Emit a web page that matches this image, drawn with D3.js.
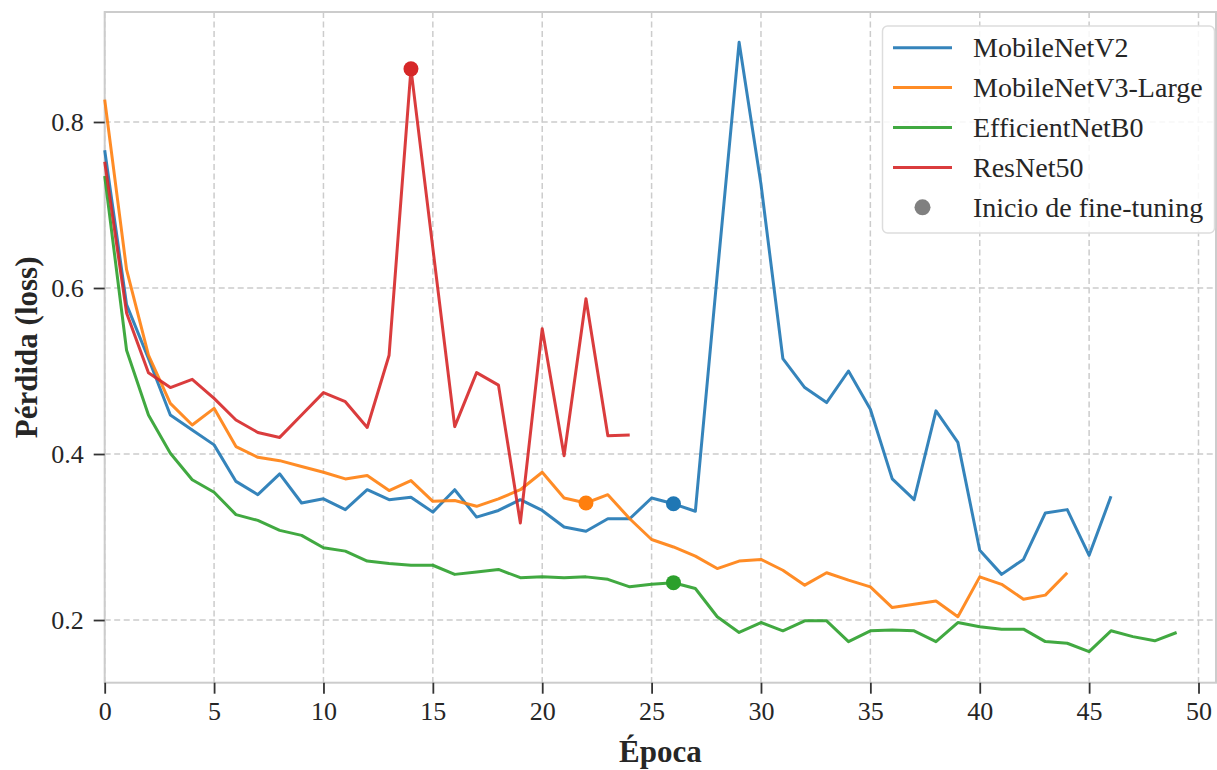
<!DOCTYPE html>
<html>
<head>
<meta charset="utf-8">
<script src="https://cdn.jsdelivr.net/npm/d3@7"></script>
<style>
  body { margin: 0; background: #fff; }
  svg { font-family: "Liberation Serif", "Times New Roman", serif; }
</style>
</head>
<body>
<svg id="chart" width="1217" height="770"></svg>
<script>
const models = ["MobileNetV2", "MobileNetV3-Large", "EfficientNetB0", "ResNet50"];
const colors = ["#1f77b4", "#ff7f0e", "#2ca02c", "#d62728"];

const mobilenetV2 = [0.766, 0.580, 0.515, 0.447, 0.429, 0.411, 0.367, 0.351, 0.376, 0.341,
  0.346, 0.333, 0.357, 0.345, 0.348, 0.330, 0.357, 0.324, 0.332, 0.345,
  0.332, 0.312, 0.307, 0.322, 0.322, 0.347, 0.340, 0.331, 0.616, 0.896,
  0.725, 0.515, 0.480, 0.462, 0.500, 0.454, 0.370, 0.345, 0.452, 0.414,
  0.284, 0.255, 0.273, 0.329, 0.333, 0.278, 0.349];
const mobilenetV3 = [0.827, 0.622, 0.519, 0.461, 0.435, 0.455, 0.409, 0.396, 0.392, 0.385,
  0.378, 0.370, 0.374, 0.356, 0.368, 0.343, 0.344, 0.337, 0.346, 0.357,
  0.378, 0.347, 0.341, 0.351, 0.322, 0.297, 0.288, 0.277, 0.262, 0.271,
  0.273, 0.260, 0.242, 0.257, 0.248, 0.240, 0.215, 0.219, 0.223, 0.204,
  0.252, 0.243, 0.225, 0.230, 0.257];
const efficientB0 = [0.735, 0.525, 0.447, 0.401, 0.369, 0.354, 0.327, 0.320, 0.308, 0.302,
  0.287, 0.283, 0.271, 0.268, 0.266, 0.266, 0.255, 0.258, 0.261, 0.251,
  0.252, 0.251, 0.252, 0.249, 0.240, 0.243, 0.245, 0.238, 0.204, 0.185,
  0.197, 0.187, 0.199, 0.199, 0.174, 0.187, 0.188, 0.187, 0.174, 0.197,
  0.192, 0.189, 0.189, 0.174, 0.172, 0.162, 0.187, 0.180, 0.175, 0.185];
const resnet50 = [0.752, 0.570, 0.498, 0.480, 0.490, 0.467, 0.441, 0.426, 0.420, 0.447,
  0.474, 0.463, 0.432, 0.519, 0.864, 0.648, 0.433, 0.498, 0.483, 0.317,
  0.551, 0.398, 0.587, 0.422, 0.423];
const fineTuneEpoch = [26, 22, 26, 14];

const xTicks = [0, 5, 10, 15, 20, 25, 30, 35, 40, 45, 50];
const yTicks = [0.2, 0.4, 0.6, 0.8];

const series = [mobilenetV2, mobilenetV3, efficientB0, resnet50].map((vals, i) => ({
  name: models[i],
  color: colors[i],
  values: vals.map((v, e) => ({ epoch: e, loss: v })),
  ft: fineTuneEpoch[i]
}));

const svg = d3.select("#chart");
const pLeft = 104.7, pRight = 1216, pTop = 12, pBottom = 682.7;

const x = d3.scaleLinear().domain([0, 50.8]).range([pLeft, pRight]);
const y = d3.scaleLinear().domain([0.1245, 0.9325]).range([pBottom, pTop]);

// grid
svg.append("g").selectAll("line")
  .data(xTicks)
  .join("line")
  .attr("x1", d => x(d)).attr("x2", d => x(d))
  .attr("y1", pTop).attr("y2", pBottom)
  .attr("stroke", "#cccccc").attr("stroke-width", 1.5)
  .attr("stroke-dasharray", "6,3.5");

svg.append("g").selectAll("line")
  .data(yTicks)
  .join("line")
  .attr("x1", pLeft).attr("x2", pRight)
  .attr("y1", d => y(d)).attr("y2", d => y(d))
  .attr("stroke", "#cccccc").attr("stroke-width", 1.5)
  .attr("stroke-dasharray", "6,3.5");

// frame
svg.append("rect")
  .attr("x", pLeft).attr("y", pTop)
  .attr("width", pRight - pLeft).attr("height", pBottom - pTop)
  .attr("fill", "none").attr("stroke", "#cccccc").attr("stroke-width", 2);

// axes
const xAxis = svg.append("g")
  .attr("transform", `translate(0,${pBottom})`)
  .call(d3.axisBottom(x).tickValues(xTicks).tickSize(11).tickPadding(8).tickFormat(d3.format("d")));
const yAxis = svg.append("g")
  .attr("transform", `translate(${pLeft},0)`)
  .call(d3.axisLeft(y).tickValues(yTicks).tickSize(11).tickPadding(10).tickFormat(d3.format(".1f")));

[xAxis, yAxis].forEach(a => {
  a.select(".domain").remove();
  a.selectAll(".tick line").attr("stroke", "#333").attr("stroke-width", 1.8);
  a.selectAll(".tick text")
    .attr("fill", "#262626")
    .attr("font-family", "Liberation Serif, serif")
    .attr("font-size", "26px");
});

// lines
const line = d3.line()
  .x(d => x(d.epoch))
  .y(d => y(d.loss));

svg.append("g").selectAll("path")
  .data(series)
  .join("path")
  .attr("d", d => line(d.values))
  .attr("fill", "none")
  .attr("stroke", d => d.color)
  .attr("stroke-width", 3)
  .attr("stroke-opacity", 0.9)
  .attr("stroke-linejoin", "round");

svg.append("g").selectAll("circle")
  .data(series)
  .join("circle")
  .attr("cx", d => x(d.ft))
  .attr("cy", d => y(d.values[d.ft].loss))
  .attr("r", 7.5)
  .attr("fill", d => d.color);

// axis titles
svg.append("text")
  .attr("x", (pLeft + pRight) / 2)
  .attr("y", 762)
  .attr("text-anchor", "middle")
  .attr("font-size", "31px")
  .attr("font-weight", "bold")
  .attr("fill", "#262626")
  .text("Época");

svg.append("text")
  .attr("transform", `translate(37,${(pTop + pBottom) / 2}) rotate(-90)`)
  .attr("text-anchor", "middle")
  .attr("font-size", "31px")
  .attr("font-weight", "bold")
  .attr("fill", "#262626")
  .text("Pérdida (loss)");

// legend
const legend = svg.append("g");
legend.append("rect")
  .attr("x", 882.5).attr("y", 26)
  .attr("width", 332).attr("height", 207)
  .attr("rx", 5)
  .attr("fill", "#fff").attr("fill-opacity", 0.85)
  .attr("stroke", "#dddddd").attr("stroke-width", 1.5);

const items = legend.selectAll("g.item")
  .data(series)
  .join("g")
  .attr("class", "item")
  .attr("transform", (d, i) => `translate(0,${47.7 + i * 39.9})`);

items.append("line")
  .attr("x1", 893).attr("x2", 952)
  .attr("stroke", d => d.color)
  .attr("stroke-width", 3)
  .attr("stroke-opacity", 0.9);

items.append("text")
  .attr("x", 973)
  .attr("y", 0)
  .attr("dy", "0.33em")
  .attr("font-size", "28px")
  .attr("fill", "#262626")
  .text(d => d.name);

const ftItem = legend.append("g")
  .attr("transform", `translate(0,${47.7 + 4 * 39.9})`);
ftItem.append("circle")
  .attr("cx", 922.5).attr("cy", 0).attr("r", 8)
  .attr("fill", "#808080");
ftItem.append("text")
  .attr("x", 973).attr("y", 0).attr("dy", "0.33em")
  .attr("font-size", "28px")
  .attr("fill", "#262626")
  .text("Inicio de fine-tuning");
</script>
</body>
</html>
